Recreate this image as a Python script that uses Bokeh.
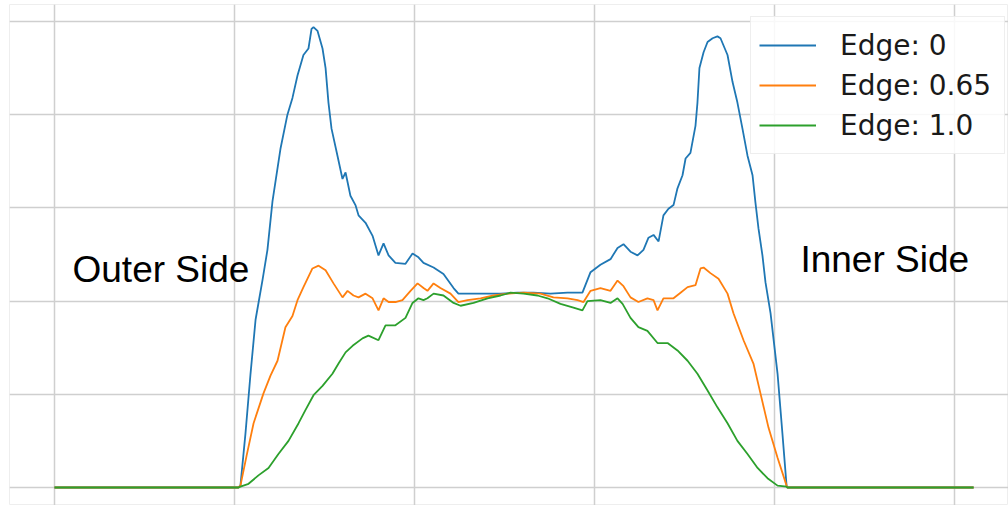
from bokeh.plotting import figure
from bokeh.models import Range1d, FixedTicker, Legend, LegendItem, Label
from bokeh.embed import file_html
from bokeh.resources import INLINE

# ---- data ----
edge0_x = [0, 102.2, 103.3, 106.1, 108.9, 111.7, 115.6, 118.3, 121.1, 125.6, 129.4, 132.2, 135.0, 138.3,
           141.1, 142.8, 143.9, 146.1, 148.9, 150.6, 152.2, 153.9, 157.2, 160.0, 161.7, 164.4, 167.2,
           168.9, 172.8, 176.7, 180.0, 182.8, 185.6, 189.4, 195.0, 198.9, 202.2, 205.0, 210.6, 216.1,
           221.7, 224.4, 231.1, 240.6, 247.8, 257.2, 266.1, 275.6, 285.0, 293.3, 297.8, 303.3, 308.9,
           312.8, 316.1, 320.0, 323.9, 327.2, 330.0, 332.8, 335.6, 338.3, 341.1, 343.9, 346.1, 348.9,
           350.6, 353.3, 356.1, 357.2, 358.3, 360.6, 362.8, 365.6, 368.3, 370.0, 373.9, 376.7, 379.4,
           382.2, 385.0, 387.8, 389.4, 391.1, 393.3, 395.0, 397.8, 401.7, 404.4, 406.7, 407.2, 510.6]
edge0_y = [0, 0, 0.02, 0.58, 1.22, 1.80, 2.23, 2.55, 3.07, 3.64, 4.00, 4.18, 4.42, 4.64,
           4.71, 4.92, 4.94, 4.90, 4.71, 4.50, 4.13, 3.85, 3.56, 3.31, 3.38, 3.13, 3.03,
           2.92, 2.84, 2.70, 2.49, 2.62, 2.49, 2.41, 2.40, 2.51, 2.47, 2.41, 2.36, 2.29,
           2.14, 2.08, 2.08, 2.08, 2.08, 2.09, 2.09, 2.08, 2.09, 2.09, 2.31, 2.39, 2.45,
           2.57, 2.61, 2.53, 2.49, 2.55, 2.68, 2.71, 2.64, 2.92, 2.99, 3.03, 3.21, 3.35,
           3.53, 3.59, 3.88, 4.13, 4.50, 4.67, 4.78, 4.82, 4.84, 4.82, 4.64, 4.35, 4.13,
           3.85, 3.56, 3.35, 3.06, 2.78, 2.49, 2.20, 1.87, 1.22, 0.58, 0.02, 0, 0]

edge065_x = [0, 102.2, 103.3, 106.7, 110.6, 116.1, 120.0, 123.9, 128.3, 132.2, 135.0, 138.3, 143.3,
             146.7, 150.6, 155.0, 160.0, 162.8, 166.1, 168.9, 172.8, 176.7, 180.0, 182.8, 185.6,
             189.4, 193.3, 197.8, 201.7, 205.0, 207.2, 210.6, 214.4, 220.0, 224.4, 229.4, 236.7,
             243.9, 251.7, 260.6, 270.0, 277.2, 285.0, 290.6, 293.9, 297.8, 303.3, 308.9, 312.8,
             316.1, 320.0, 324.4, 329.4, 332.8, 335.0, 338.3, 343.9, 347.8, 351.7, 356.1, 358.9,
             360.6, 364.4, 368.9, 373.9, 377.2, 382.8, 388.3, 392.2, 396.7, 401.7, 406.7, 407.2, 510.6]
edge065_y = [0, 0, 0.02, 0.34, 0.69, 1.01, 1.20, 1.36, 1.72, 1.84, 2.01, 2.15, 2.35,
             2.38, 2.33, 2.19, 2.04, 2.11, 2.06, 2.04, 2.08, 2.03, 1.90, 2.03, 1.99,
             1.99, 2.01, 2.11, 2.19, 2.14, 2.11, 2.19, 2.14, 2.08, 1.99, 2.01, 2.03,
             2.06, 2.08, 2.09, 2.08, 2.04, 2.03, 2.01, 1.99, 2.11, 2.14, 2.11, 2.22,
             2.16, 2.04, 1.99, 2.03, 2.01, 1.90, 2.03, 2.03, 2.09, 2.15, 2.17, 2.35,
             2.36, 2.30, 2.24, 2.08, 1.87, 1.58, 1.33, 1.01, 0.64, 0.32, 0.02, 0, 0]

edge1_x = [0, 102.2, 103.3, 107.8, 113.3, 118.9, 124.4, 130.0, 135.6, 139.4, 143.9, 148.9, 154.4,
           157.8, 161.7, 165.6, 171.1, 174.4, 180.0, 183.9, 189.4, 195.0, 198.9, 202.2, 205.0,
           207.2, 210.6, 216.1, 221.7, 225.6, 232.8, 240.6, 247.8, 253.3, 260.6, 268.3, 273.9,
           281.1, 288.3, 293.3, 296.1, 303.3, 308.9, 312.8, 315.6, 320.0, 324.4, 329.4, 335.0,
           340.6, 346.1, 351.7, 357.2, 362.8, 368.3, 373.9, 379.4, 385.0, 390.6, 396.1, 401.7,
           406.7, 407.2, 510.6]
edge1_y = [0, 0, 0.01, 0.04, 0.13, 0.21, 0.36, 0.50, 0.69, 0.83, 0.99, 1.09, 1.22,
           1.33, 1.45, 1.52, 1.60, 1.63, 1.58, 1.74, 1.74, 1.82, 1.98, 2.03, 2.01,
           2.03, 2.08, 2.06, 1.98, 1.95, 1.98, 2.03, 2.06, 2.09, 2.08, 2.06, 2.03,
           1.97, 1.93, 1.90, 2.00, 2.01, 1.98, 2.03, 1.97, 1.82, 1.72, 1.68, 1.55,
           1.55, 1.47, 1.36, 1.22, 1.04, 0.86, 0.69, 0.50, 0.36, 0.21, 0.10, 0.02,
           0.01, 0, 0]

series_labels = ["Edge: 0", "Edge: 0.65", "Edge: 1.0"]
series_colors = ["#1f77b4", "#ff7f0e", "#2ca02c"]
x_grid_ticks = [0, 100, 200, 300, 400, 500]
y_grid_ticks = [0, 1, 2, 3, 4, 5]

annotations = [("Outer Side", 10, 2.34), ("Inner Side", 414.4, 2.45)]

# ---- figure ----
p = figure(width=1008, height=505, output_backend="svg", toolbar_location=None,
           x_range=Range1d(-25.0, 530.0), y_range=Range1d(-0.193, 5.182),
           min_border=0, min_border_left=9, min_border_top=4,
           background_fill_color="white", border_fill_color="white")
p.xaxis.visible = False
p.yaxis.visible = False
p.xgrid.ticker = FixedTicker(ticks=x_grid_ticks)
p.ygrid.ticker = FixedTicker(ticks=y_grid_ticks)
for g in (p.xgrid, p.ygrid):
    g.grid_line_color = "#cfcfcf"
    g.grid_line_width = 1.5
p.outline_line_color = "#eeeeee"
p.outline_line_width = 1.0

renderers = []
for xs, ys, c in zip([edge0_x, edge065_x, edge1_x], [edge0_y, edge065_y, edge1_y], series_colors):
    r = p.line(xs, ys, line_color=c, line_width=1.8)
    renderers.append(r)

legend = Legend(items=[LegendItem(label=l, renderers=[r]) for l, r in zip(series_labels, renderers)],
                location=(741, 351), margin=0, padding=8, spacing=0,
                glyph_width=57, glyph_height=40, label_height=40, label_width=156,
                label_standoff=24, label_text_font="DejaVu Sans", label_text_font_size="28px",
                label_text_color="#1a1a1a", border_line_color="#dddddd", border_line_width=1.2,
                background_fill_color="white", background_fill_alpha=0.85)
p.add_layout(legend)

for txt, xv, yv in annotations:
    p.add_layout(Label(x=xv, y=yv, text=txt, text_font="Liberation Sans", text_font_size="37px",
                       text_color="black", text_baseline="alphabetic"))

open("out.html", "w").write(file_html(p, INLINE))
